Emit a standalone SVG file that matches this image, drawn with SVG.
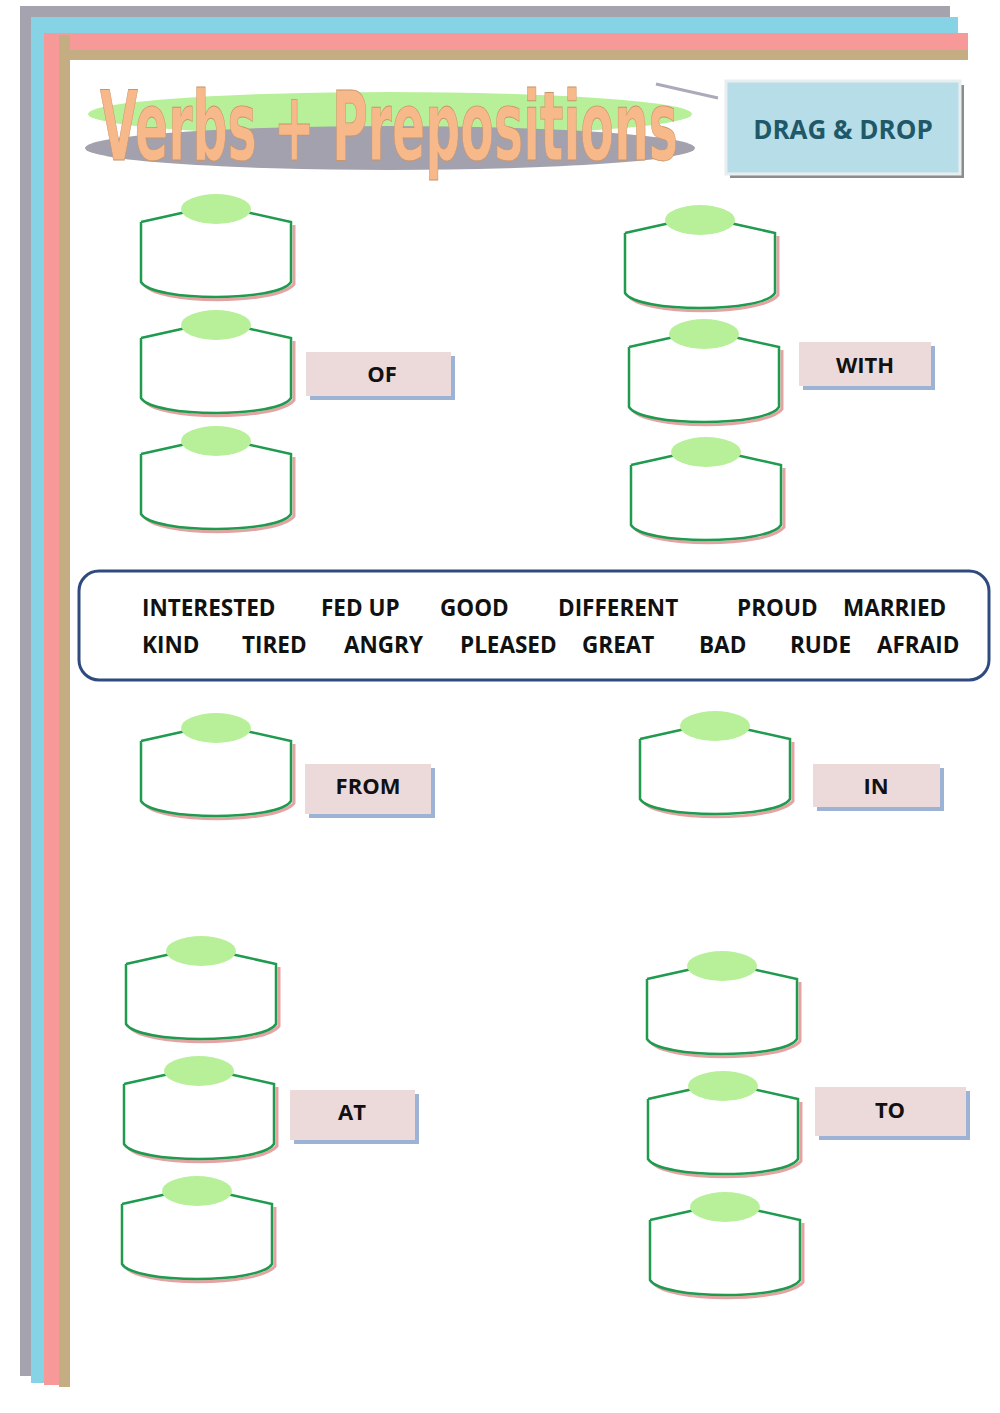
<svg xmlns="http://www.w3.org/2000/svg" width="1000" height="1413" viewBox="0 0 1000 1413">
<style>
.lbl{fill:#ecd9da;}
.lsh{fill:#9db3d6;}
.lt{font-family:"Open Sans","Liberation Sans",sans-serif;font-weight:bold;font-size:22px;fill:#111;text-anchor:middle;}
.w{font-family:"Open Sans","Liberation Sans",sans-serif;font-weight:bold;font-size:22.5px;fill:#111;}
</style>
<defs>
<g id="bk">
<path d="M-72,16 L-72,75 C-60,96 62,96 78,75 L78,16" fill="none" stroke="#e3a3a3" stroke-width="3"/>
<path d="M-75,13 L-75,73 C-63,93 63,93 75,73 L75,13 L30,3 M-30,3 L-75,13" fill="#fff" stroke="#1f9a4e" stroke-width="2.5"/>
<ellipse cx="0" cy="0" rx="35" ry="15" fill="#b8f09a"/>
</g>
</defs>
<rect width="1000" height="1413" fill="#fff"/>
<g id="border">
<rect x="20" y="6" width="930" height="11" fill="#a5a4ae"/>
<rect x="20" y="6" width="11" height="1370" fill="#a5a4ae"/>
<rect x="31" y="17" width="927" height="16" fill="#86d3e6"/>
<rect x="31" y="17" width="13" height="1366" fill="#86d3e6"/>
<rect x="44" y="33" width="924" height="17" fill="#f79999"/>
<rect x="44" y="33" width="15" height="1352" fill="#f79999"/>
<rect x="59" y="50" width="909" height="10" fill="#c4ad82"/>
<rect x="59" y="35" width="11" height="1352" fill="#c4ad82"/>
</g>
<g id="title">
<ellipse cx="390" cy="114" rx="302" ry="22" fill="#b8f09a"/>
<ellipse cx="390" cy="148" rx="305" ry="22" fill="#a2a1ad"/>
<line x1="656" y1="84" x2="718" y2="98" stroke="#aab" stroke-width="3"/>
<text x="100" y="160" font-family="'DejaVu Sans Condensed','Liberation Sans Narrow',sans-serif" font-weight="bold" font-size="96" fill="#f8b98a" stroke="#c8946a" stroke-width="0.8" textLength="578" lengthAdjust="spacingAndGlyphs">Verbs + Prepositions</text>
</g>
<g id="dragdrop">
<rect x="730" y="85" width="234" height="93" fill="#8c8c8c"/>
<rect x="726" y="81" width="234" height="93" fill="#b7dde8" stroke="#e8eef0" stroke-width="3"/>
<text x="843" y="139" text-anchor="middle" font-family="'Open Sans','Liberation Sans',sans-serif" font-weight="bold" font-size="26" fill="#215868">DRAG &amp; DROP</text>
</g>
<g id="boxes">
<use href="#bk" x="216" y="209"/><use href="#bk" x="216" y="325"/><use href="#bk" x="216" y="441"/>
<use href="#bk" x="700" y="220"/><use href="#bk" x="704" y="334"/><use href="#bk" x="706" y="452"/>
<use href="#bk" x="216" y="728"/><use href="#bk" x="715" y="726"/>
<use href="#bk" x="201" y="951"/><use href="#bk" x="199" y="1071"/><use href="#bk" x="197" y="1191"/>
<use href="#bk" x="722" y="966"/><use href="#bk" x="723" y="1086"/><use href="#bk" x="725" y="1207"/>
</g>
<g id="label-of"><rect class="lsh" x="310" y="356" width="145" height="44"/><rect class="lbl" x="306" y="352" width="145" height="44"/><text class="lt" x="382" y="382">OF</text></g>
<g id="label-with"><rect class="lsh" x="803" y="346" width="132" height="44"/><rect class="lbl" x="799" y="342" width="132" height="44"/><text class="lt" x="865" y="373">WITH</text></g>
<g id="label-from"><rect class="lsh" x="309" y="768" width="126" height="50"/><rect class="lbl" x="305" y="764" width="126" height="50"/><text class="lt" x="368" y="794">FROM</text></g>
<g id="label-in"><rect class="lsh" x="817" y="768" width="127" height="43"/><rect class="lbl" x="813" y="764" width="127" height="43"/><text class="lt" x="876" y="794">IN</text></g>
<g id="label-at"><rect class="lsh" x="294" y="1094" width="125" height="50"/><rect class="lbl" x="290" y="1090" width="125" height="50"/><text class="lt" x="352" y="1120">AT</text></g>
<g id="label-to"><rect class="lsh" x="819" y="1091" width="151" height="49"/><rect class="lbl" x="815" y="1087" width="151" height="49"/><text class="lt" x="890" y="1118">TO</text></g>
<g id="wordbank">
<rect x="79" y="571" width="910" height="109" rx="20" fill="#fff" stroke="#2e4a7e" stroke-width="3"/>
<text class="w" y="616"><tspan x="142">INTERESTED</tspan><tspan x="321">FED UP</tspan><tspan x="440">GOOD</tspan><tspan x="558">DIFFERENT</tspan><tspan x="737">PROUD</tspan><tspan x="843">MARRIED</tspan></text>
<text class="w" y="653"><tspan x="142">KIND</tspan><tspan x="242">TIRED</tspan><tspan x="344">ANGRY</tspan><tspan x="460">PLEASED</tspan><tspan x="582">GREAT</tspan><tspan x="699">BAD</tspan><tspan x="790">RUDE</tspan><tspan x="877">AFRAID</tspan></text>
</g>
</svg>
